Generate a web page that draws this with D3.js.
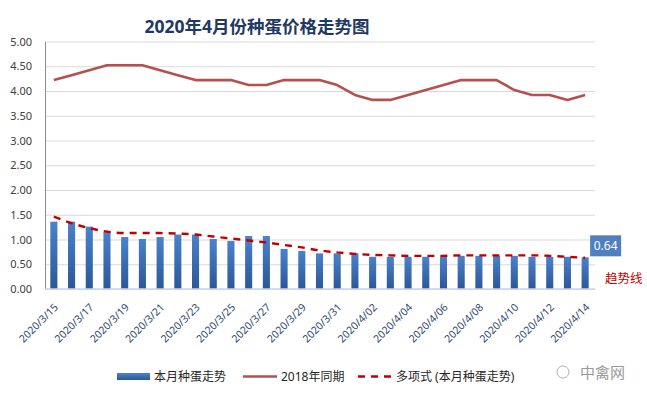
<!DOCTYPE html>
<html>
<head>
<meta charset="utf-8">
<script src="https://cdn.jsdelivr.net/npm/d3@7"></script>
<style>
  html, body { margin: 0; padding: 0; background: #ffffff; }
  svg { display: block; }
  text { font-family: "Noto Sans", "Noto Sans CJK SC", sans-serif; }
</style>
</head>
<body>
<svg id="chart" width="647" height="394"></svg>
<script>
// ---- data ----
const dates = [
  "2020/3/15","2020/3/16","2020/3/17","2020/3/18","2020/3/19","2020/3/20","2020/3/21","2020/3/22",
  "2020/3/23","2020/3/24","2020/3/25","2020/3/26","2020/3/27","2020/3/28","2020/3/29","2020/3/30",
  "2020/3/31","2020/4/01","2020/4/02","2020/4/03","2020/4/04","2020/4/05","2020/4/06","2020/4/07",
  "2020/4/08","2020/4/09","2020/4/10","2020/4/11","2020/4/12","2020/4/13","2020/4/14"
];
const tickLabels = [
  "2020/3/15","2020/3/17","2020/3/19","2020/3/21","2020/3/23","2020/3/25","2020/3/27","2020/3/29",
  "2020/3/31","2020/4/02","2020/4/04","2020/4/06","2020/4/08","2020/4/10","2020/4/12","2020/4/14"
];
const price2020 = [
  1.36, 1.36, 1.26, 1.15, 1.05, 1.01, 1.05, 1.10, 1.10, 1.01, 0.97, 1.07, 1.07, 0.81, 0.77, 0.72,
  0.72, 0.72, 0.65, 0.65, 0.65, 0.65, 0.65, 0.67, 0.67, 0.67, 0.67, 0.65, 0.65, 0.65, 0.64
];
const price2018 = [
  4.22, 4.32, 4.42, 4.52, 4.52, 4.52, 4.42, 4.32, 4.22, 4.22, 4.22, 4.12, 4.12, 4.22, 4.22, 4.22,
  4.12, 3.92, 3.82, 3.82, 3.92, 4.02, 4.12, 4.22, 4.22, 4.22, 4.02, 3.92, 3.92, 3.82, 3.92
];
const trend2020 = [
  1.46, 1.33, 1.23, 1.16, 1.13, 1.13, 1.13, 1.12, 1.10, 1.06, 1.02, 0.98, 0.94, 0.89, 0.84, 0.78,
  0.74, 0.71, 0.69, 0.68, 0.67, 0.67, 0.67, 0.68, 0.68, 0.68, 0.68, 0.68, 0.67, 0.65, 0.63
];
const yTicks = [0, 0.5, 1, 1.5, 2, 2.5, 3, 3.5, 4, 4.5, 5];
const legendNames = ["本月种蛋走势", "2018年同期", "多项式 (本月种蛋走势)"];
const titleText = "2020年4月份种蛋价格走势图";

// ---- layout ----
const svg = d3.select("#chart");
const plot = { left: 45, right: 594, top: 41.5, bottom: 289 };

const x = d3.scaleBand().domain(dates).range([plot.left, plot.right]).paddingInner(0.6).paddingOuter(0.3);
const y = d3.scaleLinear().domain([0, 5]).range([plot.bottom, plot.top]);
const cx = d => x(d) + x.bandwidth() / 2;

// gradient for bars
const defs = svg.append("defs");
const grad = defs.append("linearGradient").attr("id", "barGrad").attr("x1", 0).attr("y1", 0).attr("x2", 0).attr("y2", 1);
grad.append("stop").attr("offset", "0%").attr("stop-color", "#4a82cc");
grad.append("stop").attr("offset", "100%").attr("stop-color", "#2b5797");

// title
svg.append("text")
  .attr("x", 257).attr("y", 33)
  .attr("text-anchor", "middle")
  .attr("font-family", "'Noto Sans CJK SC', sans-serif")
  .attr("font-size", 17.5).attr("font-weight", "bold")
  .attr("fill", "#1f3864")
  .text(titleText);

// gridlines
const yAxisGrid = d3.axisLeft(y).tickValues(yTicks).tickSize(-(plot.right - plot.left + 1)).tickFormat("");
svg.append("g").attr("transform", `translate(${plot.left},0)`).call(yAxisGrid)
  .call(g => g.select(".domain").remove())
  .call(g => g.selectAll("line").attr("stroke", "#d9d9d9").attr("stroke-width", 1));

// y axis labels
const yAxis = d3.axisLeft(y).tickValues(yTicks).tickSize(0).tickPadding(13).tickFormat(d3.format(".2f"));
svg.append("g").attr("transform", `translate(${plot.left},0)`).call(yAxis)
  .call(g => g.select(".domain").attr("stroke", "#8c8c8c"))
  .call(g => g.selectAll("text").attr("font-size", 11).attr("fill", "#404040")
    .attr("font-family", "'Noto Sans', sans-serif"));

// bars
svg.append("g").selectAll("rect").data(dates).join("rect")
  .attr("x", d => x(d))
  .attr("y", (d, i) => y(price2020[i]))
  .attr("width", x.bandwidth())
  .attr("height", (d, i) => y(0) - y(price2020[i]))
  .attr("fill", "url(#barGrad)");

// x axis line
svg.append("line")
  .attr("x1", plot.left).attr("x2", plot.right + 1)
  .attr("y1", y(0)).attr("y2", y(0))
  .attr("stroke", "#c6d6ea").attr("stroke-width", 1.5);

// x axis labels (rotated)
const xAxis = d3.axisBottom(x).tickValues(tickLabels).tickSize(0).tickPadding(0);
svg.append("g").attr("transform", `translate(0,${y(0)})`).call(xAxis)
  .call(g => g.select(".domain").remove())
  .call(g => g.selectAll("text")
    .attr("font-size", 10.5)
    .attr("fill", "#2f4a74")
    .attr("font-family", "'Noto Sans', sans-serif")
    .attr("text-anchor", "end")
    .attr("dy", "0")
    .attr("transform", "translate(5,19) rotate(-45)"));

// 2018 line
const line2018 = d3.line().x((d, i) => cx(dates[i])).y(d => y(d));
svg.append("path").datum(price2018)
  .attr("d", line2018)
  .attr("fill", "none").attr("stroke", "#b5504d").attr("stroke-width", 2.6)
  .attr("stroke-linejoin", "round");

// trend line
const lineTrend = d3.line().x((d, i) => cx(dates[i])).y(d => y(d)).curve(d3.curveMonotoneX);
svg.append("path").datum(trend2020)
  .attr("d", lineTrend)
  .attr("fill", "none").attr("stroke", "#c00000").attr("stroke-width", 2.4)
  .attr("stroke-dasharray", "7,6");

// value label for last bar
const lastIdx = dates.length - 1;
const lbX = cx(dates[lastIdx]) + 5, lbY = y(price2020[lastIdx]) - 22;
svg.append("rect").attr("x", lbX).attr("y", lbY).attr("width", 31).attr("height", 21).attr("fill", "#4f7fbf");
svg.append("text").attr("x", lbX + 15.5).attr("y", lbY + 15)
  .attr("text-anchor", "middle").attr("font-size", 12).attr("fill", "#ffffff")
  .text(d3.format(".2f")(price2020[lastIdx]));

// trend annotation
svg.append("text").attr("x", 605).attr("y", 283)
  .attr("font-family", "'Noto Sans CJK SC', sans-serif")
  .attr("font-size", 12.5).attr("fill", "#c00000")
  .text("趋势线");

// legend
const lg = svg.append("g").attr("font-family", "'Noto Sans CJK SC', sans-serif").attr("font-size", 12).attr("fill", "#262626");
lg.append("rect").attr("x", 117).attr("y", 373).attr("width", 33).attr("height", 7).attr("fill", "url(#barGrad)");
lg.append("text").attr("x", 154).attr("y", 381).text(legendNames[0]);
lg.append("line").attr("x1", 243).attr("x2", 277).attr("y1", 376.5).attr("y2", 376.5).attr("stroke", "#b5504d").attr("stroke-width", 2.4);
lg.append("text").attr("x", 281).attr("y", 381).text(legendNames[1]);
lg.append("line").attr("x1", 358).attr("x2", 392).attr("y1", 376.5).attr("y2", 376.5).attr("stroke", "#c00000").attr("stroke-width", 2.4).attr("stroke-dasharray", "7,6");
lg.append("text").attr("x", 396).attr("y", 381).text(legendNames[2]);

// watermark
svg.append("text").attr("x", 580).attr("y", 378)
  .attr("font-family", "'Noto Sans CJK SC', sans-serif")
  .attr("font-size", 15).attr("fill", "#9a9a9a")
  .text("中禽网");
svg.append("circle").attr("cx", 563).attr("cy", 372).attr("r", 6).attr("fill", "none").attr("stroke", "#b0b0b0").attr("stroke-width", 1);
</script>
</body>
</html>
